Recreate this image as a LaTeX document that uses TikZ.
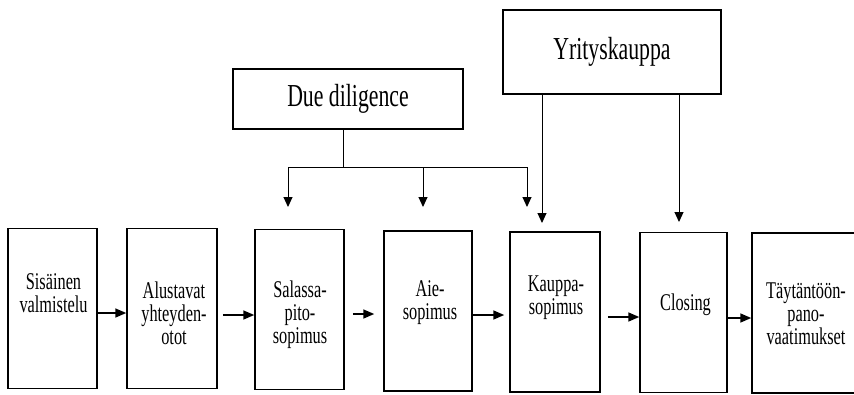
\documentclass[tikz,border=0pt]{standalone}
\usepackage{fontspec}
\setmainfont{Liberation Serif}[FakeStretch=0.68]
\usetikzlibrary{calc,arrows.meta,positioning}
\tikzstyle{stage} = [rectangle, draw=black, line width=1.5pt, minimum width=89pt, minimum height=160pt, inner sep=0pt]
\tikzstyle{phase} = [rectangle, draw=black, line width=1.5pt, inner sep=0pt, font=\fontsize{32}{36}\selectfont]
\tikzstyle{caption} = [align=center, inner sep=0pt, font=\fontsize{24}{23}\selectfont]
\tikzstyle{flow} = [line width=1.6pt, -{Triangle[length=11pt,width=9pt]}]
\tikzstyle{feed} = [line width=1pt, -{Triangle[length=10pt,width=9pt]}]

\begin{document}
\begin{tikzpicture}[x=1pt,y=-1pt]
	\clip (0,0) rectangle (854,394);

	%% The seven stages of the deal (boxes)
	\node[stage, minimum width=89pt] (S1) at (52.5,308.5) {};
	\node[stage, minimum width=90pt] (S2) at (172,308.5) {};
	\node[stage, minimum width=89pt] (S3) at (299.5,309.5) {};
	\node[stage, minimum width=88pt] (S4) at (428,311) {};
	\node[stage, minimum width=90pt] (S5) at (555,312) {};
	\node[stage, minimum width=87pt] (S6) at (683.5,312.5) {};
	\node[stage, minimum width=110pt] (S7) at (807,313) {}; % runs off the page

	%% Their texts
	\node[caption] (T1) at (53.5,293.6) {Sisäinen\\valmistelu};
	\node[caption] (T2) at (174,313.6) {Alustavat\\yhteyden-\\otot};
	\node[caption] (T3) at (300,314.5) {Salassa-\\pito-\\sopimus};
	\node[caption] (T4) at (430,303.1) {Aie-\\sopimus};
	\node[caption] (T5) at (556,298.1) {Kauppa-\\sopimus};
	\node[caption] (T6) at (685.5,304.5) {Closing};
	\node[caption] (T7) at (806,313.5) {Täytäntöön-\\pano-\\vaatimukset};

	%% Arrows between the stages
	\draw[flow] ([yshift=-4.5pt]S1.east) -- ([yshift=-4.5pt]S2.west);
	\draw[flow] ([xshift=5pt,yshift=-6.5pt]S2.east) -- ([yshift=-5.5pt]S3.west);
	\draw[flow] ([xshift=8pt,yshift=-4.5pt]S3.east) -- ([xshift=-9pt,yshift=-3pt]S4.west);
	\draw[flow] ([yshift=-4pt]S4.east) -- ([xshift=-5pt,yshift=-3pt]S5.west);
	\draw[flow] ([xshift=7pt,yshift=-5pt]S5.east) -- ([yshift=-4.5pt]S6.west);
	\draw[flow] ([yshift=-5.5pt]S6.east) -- ([yshift=-5pt]S7.west);

	%% Upper boxes
	\node[phase, minimum width=230pt, minimum height=60pt] (DD) at (348,99) {Due diligence};
	\node[phase, minimum width=218pt, minimum height=84pt] (YK) at (612,52) {Yrityskauppa};

	%% Due diligence feeds three stages
	\coordinate (J) at (343,167);
	\coordinate (D1) at (288,207);
	\coordinate (D2) at (423,207);
	\coordinate (D3) at (527,207);
	\draw[line width=1pt] (J |- DD.south) -- (J);
	\draw[line width=1pt] (D1 |- J) -- (D3 |- J);
	\foreach \d in {D1,D2,D3}
		\draw[feed] (\d |- J) -- (\d);

	%% Yrityskauppa feeds two stages
	\coordinate (K1) at (542,223);
	\coordinate (K2) at (679,222);
	\draw[feed] (K1 |- YK.south) -- (K1);
	\draw[feed] (K2 |- YK.south) -- (K2);
\end{tikzpicture}
\end{document}
